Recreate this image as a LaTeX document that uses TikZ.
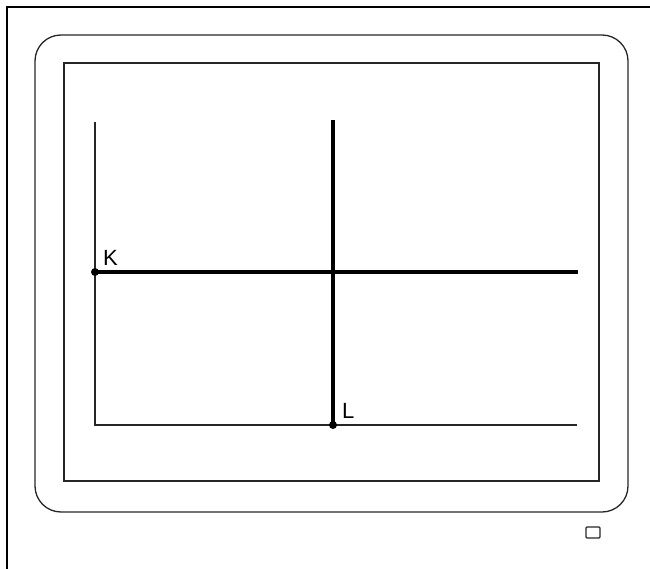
\documentclass[tikz,border=0pt]{standalone}
\usepackage{fontspec}
\setmainfont{Liberation Sans}
\begin{document}
\begin{tikzpicture}[x=1pt,y=-1pt,
  thinline/.style={line width=1.3pt,black!85},
  thickline/.style={line width=3.5pt},
  dotpt/.style={circle,fill,inner sep=0pt,minimum size=8pt},
  lbl/.style={font=\fontsize{22}{22}\selectfont,inner sep=0pt,anchor=south west}]
\useasboundingbox (0,0) rectangle (650,569);
% outer frame (left and top edges visible)
\draw[line width=2.5pt] (7,575) -- (7,7) -- (660,7);
% rounded bezel
\draw[line width=1.3pt,black!85,rounded corners=26pt] (35,35) rectangle (628,512);
% screen
\draw[line width=1.3pt,black!85] (64,63) rectangle (599,481);
% small button
\draw[line width=1.3pt,black!85,rounded corners=1pt] (586,527) rectangle (600,538);
% axes
\coordinate (top) at (95,122);
\coordinate (origin) at (95,425);
\coordinate (xend) at (577,425);
\draw[thinline] (top) -- (origin) -- (xend);
% thick lines
\node[dotpt] (K) at (95,272) {};
\node[dotpt] (L) at (333,425) {};
\coordinate (Kend) at (578,272);
\coordinate (Ltop) at (333,120);
\draw[thickline] (K.center) -- (Kend);
\draw[thickline] (Ltop) -- (L.center);
\node[lbl] (Klbl) at (103,266) {K};
\node[lbl] (Llbl) at (342,419) {L};
\end{tikzpicture}
\end{document}
